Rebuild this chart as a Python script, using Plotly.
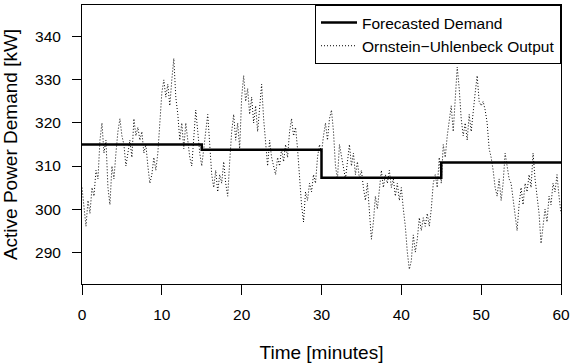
import plotly.graph_objects as go

# Forecasted demand (step function, kW)
forecast_t = [0, 15, 30, 45, 60]
forecast_kw = [315.0, 313.8, 307.3, 310.8, 310.8]

ou_t = [i * 0.25 for i in range(241)]
ou_kw = [
    305, 300, 296, 302, 299, 305, 303, 309, 307, 316, 320, 313, 316, 305, 301, 310, 307, 313, 318, 321,
    317, 315, 310, 313, 316, 312, 321, 317, 319, 316, 318, 313, 315, 310, 306, 308, 312, 309, 313, 320,
    327, 330, 326, 329, 324, 330, 335, 326, 322, 316, 320, 314, 320, 316, 312, 310, 316, 323, 318, 313,
    310, 314, 318, 322, 315, 308, 305, 309, 304, 308, 306, 311, 306, 303, 311, 318, 322, 316, 320, 314,
    326, 331, 325, 328, 322, 326, 320, 324, 318, 324, 329, 321, 316, 310, 316, 312, 310, 308, 312, 310,
    314, 311, 315, 312, 318, 321, 317, 319, 314, 306, 301, 297, 304, 302, 306, 304, 308, 306, 312, 315,
    313, 317, 320, 316, 321, 323, 318, 310, 307, 315, 312, 309, 307, 311, 315, 310, 313, 308, 311, 307,
    309, 305, 302, 306, 300, 293, 297, 303, 300, 305, 309, 305, 308, 306, 309, 305, 307, 303, 306, 302,
    305, 300, 296, 290, 286, 288, 294, 290, 293, 298, 295, 298, 296, 299, 296, 300, 306, 308, 305, 312,
    306, 315, 312, 317, 320, 324, 318, 326, 333, 328, 321, 317, 320, 316, 322, 318, 323, 327, 331, 325,
    324, 325, 323, 320, 314, 312, 309, 305, 303, 307, 302, 306, 313, 310, 307, 306, 302, 298, 295, 301,
    305, 301, 306, 304, 308, 305, 313, 307, 303, 299, 292, 296, 300, 297, 303, 301, 306, 304, 308, 303,
    299,
]

x_ticks = [0, 10, 20, 30, 40, 50, 60]
y_ticks = [290, 300, 310, 320, 330, 340]

FONT = "Liberation Sans, Arial, Helvetica, sans-serif"

fig = go.Figure()
fig.add_trace(go.Scatter(
    x=forecast_t, y=forecast_kw, mode="lines", line_shape="hv",
    name="Forecasted Demand", line=dict(color="black", width=2.5),
))
fig.add_trace(go.Scatter(
    x=ou_t, y=ou_kw, mode="lines", name="Ornstein−Uhlenbeck Output",
    line=dict(color="black", width=1, dash="1px,2px"),
))

fig.update_layout(
    width=574, height=364,
    margin=dict(l=82, r=8, t=4, b=80),
    paper_bgcolor="white", plot_bgcolor="white",
    font=dict(family=FONT, size=15.5, color="black"),
    showlegend=True,
    legend=dict(
        x=1, y=1, xanchor="right", yanchor="top",
        bgcolor="white", bordercolor="black", borderwidth=1,
        font=dict(size=15.5), tracegroupgap=0, itemwidth=36,
    ),
    xaxis=dict(
        range=[0, 60], tickvals=x_ticks, ticktext=[str(v) for v in x_ticks],
        showline=True, mirror=True, linecolor="black", linewidth=1,
        ticks="outside", ticklen=10, tickcolor="black",
        showgrid=False, zeroline=False,
        title=dict(text="Time [minutes]", standoff=24),
        ticklabelstandoff=6, ticklabeloverflow="allow",
    ),
    yaxis=dict(
        range=[282.6, 347.4], tickvals=y_ticks, ticktext=[str(v) for v in y_ticks],
        showline=True, mirror=True, linecolor="black", linewidth=1,
        ticks="outside", ticklen=9, tickcolor="black",
        showgrid=False, zeroline=False,
        title=dict(text="Active Power Demand [kW]", standoff=12),
        ticklabelstandoff=8,
    ),
)

fig.write_html(
    "out.html",
    config={"displayModeBar": False},
    post_script="document.body.style.margin='0';document.body.style.padding='0';",
)
